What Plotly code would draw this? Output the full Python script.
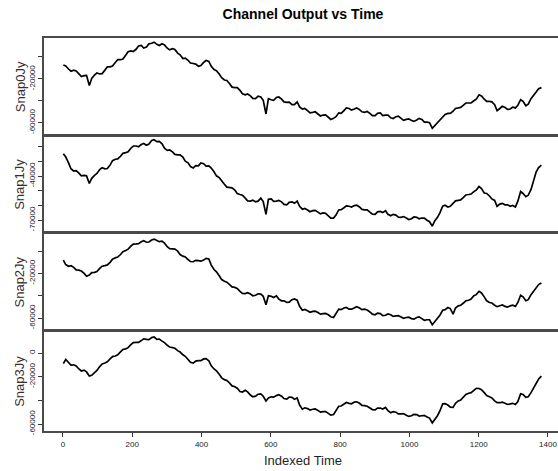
import plotly.graph_objects as go
from plotly.subplots import make_subplots

# sample positions (index): every 15 samples, plus the points in between
index_at = list(range(1, 1386, 15))
index_between = list(range(8, 1381, 15))

snap0_at = [-7300, -11000, -12000, -15500, -17000, -26000, -16500, -15500, -12000, -9000,
            -5000, -2500, 1500, 5500, 7000, 10500, 9000, 12500, 11500, 12000,
            8000, 7500, 3500, -1500, -3000, -6000, -8500, -5000, -4000, -11500,
            -15500, -21000, -24500, -28000, -30500, -34500, -35500, -38000, -36500, -52000,
            -39000, -37000, -38500, -41500, -43500, -41000, -47500, -49000, -50500, -52000,
            -53000, -55000, -56000, -51000, -49000, -47000, -47500, -48000, -50500, -51500,
            -53500, -51000, -53000, -55500, -54500, -56000, -57000, -58000, -57500, -57000,
            -59500, -65000, -59500, -55000, -51500, -49500, -46500, -44000, -42000, -40000,
            -34500, -38500, -40500, -43500, -47000, -46000, -47500, -46500, -39000, -44500,
            -38000, -31500, -28000]
snap0_between = [-8200, -13000, -12800, -17800, -16800, -19500, -14500, -15200, -9000, -8200,
                 -2500, -1800, 4800, 5000, 10000, 8200, 12000, 13500, 10500, 11000,
                 6500, 6800, 2000, -1000, -5500, -6500, -7800, -3200, -8500, -12500,
                 -19000, -21500, -27500, -28000, -33500, -33800, -37800, -35800, -39500, -38000,
                 -39500, -36500, -41000, -41200, -43500, -45500, -47000, -51000, -50000, -53800,
                 -52800, -57000, -54500, -51500, -46500, -48500, -46500, -50000, -49800, -53500,
                 -51500, -53500, -53000, -56200, -54000, -57800, -56500, -58800, -56000, -59500,
                 -60000, -62500, -58000, -52500, -51500, -47000, -46000, -42000, -42000, -38500,
                 -35500, -40500, -41000, -49000, -45000, -47800, -45800, -44000, -40500, -43000,
                 -35000, -29000]

snap1_at = [-24700, -31000, -36500, -38000, -39500, -45000, -39500, -35500, -35000, -32500,
            -28500, -26500, -24000, -21000, -19500, -18500, -19000, -15700, -16500, -18000,
            -22500, -23500, -25500, -27000, -31000, -34500, -33000, -31500, -33000, -37000,
            -41000, -45500, -48000, -49500, -52500, -55000, -57000, -57500, -55000, -66000,
            -55500, -57000, -57500, -59500, -57500, -57000, -62500, -63000, -63500, -64500,
            -65000, -67000, -68500, -63000, -61500, -60500, -60000, -61000, -63000, -64500,
            -66000, -64000, -63500, -67000, -66500, -68000, -68500, -69000, -68000, -68500,
            -70000, -74000, -68000, -60500, -61000, -58500, -56500, -54500, -52500, -50500,
            -47000, -51500, -53500, -56500, -59000, -59500, -60500, -61000, -50500, -54000,
            -49000, -37000, -32500]
snap1_between = [-27000, -35000, -36200, -39800, -39800, -41500, -38200, -34200, -34800, -29500,
                 -28300, -24500, -23500, -19500, -20000, -17800, -18200, -15200, -16300, -21000,
                 -22200, -25200, -25500, -29800, -33500, -32800, -31000, -33200, -34500, -39800,
                 -42800, -47500, -48000, -51800, -53000, -56800, -56300, -57000, -57300, -55800,
                 -57200, -56500, -59200, -57800, -58500, -60500, -62000, -64200, -63300, -65700,
                 -65300, -68500, -66500, -62800, -60200, -61000, -59800, -62600, -63000, -65900,
                 -64300, -64800, -66000, -66000, -67900, -67500, -69500, -67800, -69000, -68500,
                 -71000, -70500, -65000, -59800, -60500, -56800, -56200, -52800, -52200, -49500,
                 -48500, -51800, -55500, -60500, -58500, -59500, -60000, -57000, -51800, -53000,
                 -43500, -34200]

snap2_at = [-8000, -13500, -14500, -17000, -20000, -21500, -19000, -15500, -13000, -10000,
            -6000, -3000, 500, 4500, 6500, 8500, 8000, 10000, 9500, 9000,
            4000, 2000, 0, -4500, -7500, -9500, -8500, -8000, -7000, -16500,
            -22000, -27000, -30000, -32500, -36000, -38000, -38500, -39500, -38500, -48000,
            -40500, -40000, -44500, -46000, -43500, -44000, -53000, -53500, -54000, -55000,
            -56000, -57000, -59500, -52000, -51000, -52000, -50500, -51000, -52000, -54500,
            -57000, -56000, -57500, -57000, -58000, -59000, -59500, -60500, -59500, -60500,
            -61500, -66000, -61000, -53000, -50500, -56500, -49000, -46500, -44000, -40000,
            -36000, -41000, -46000, -48500, -49000, -49500, -49000, -49500, -39500, -44500,
            -39000, -32500, -28500]
snap2_between = [-12000, -13000, -16800, -17800, -22500, -19200, -18200, -13500, -12300, -7200,
                 -5300, -500, 1800, 6300, 6800, 9300, 8200, 10800, 8500, 7200,
                 2200, 1800, -3000, -5200, -9300, -8200, -9000, -6500, -12500, -18500,
                 -25500, -27800, -32000, -33500, -37800, -37300, -40000, -38200, -40500, -40000,
                 -41500, -43000, -44500, -45800, -42800, -49500, -52300, -54800, -53800, -56500,
                 -55800, -58800, -56500, -52500, -50500, -52000, -49800, -52500, -52800, -56500,
                 -55500, -57800, -56300, -58500, -57800, -60200, -59200, -61000, -59000, -62000,
                 -61500, -63500, -57500, -52500, -51500, -51000, -48500, -44500, -43000, -39000,
                 -37500, -44500, -46500, -49800, -48300, -50200, -48500, -46000, -41000, -43500,
                 -36000, -30000]

snap3_at = [-9000, -8000, -10000, -13500, -14500, -19500, -16500, -11500, -8500, -5000,
            -2500, 1000, 3500, 7000, 9000, 10500, 11500, 13000, 11500, 10000,
            6500, 4500, 2000, -1500, -5500, -8500, -6500, -5000, -6500, -13500,
            -18000, -22500, -25500, -28500, -32500, -31500, -35500, -36500, -34500, -40500,
            -37000, -36000, -36500, -39000, -37500, -38000, -47500, -47000, -47500, -48500,
            -49500, -51000, -52000, -45000, -43000, -42500, -41500, -42500, -44500, -46500,
            -48000, -46500, -46000, -50500, -50000, -51500, -52500, -53000, -52000, -53000,
            -54000, -59000, -53000, -43000, -44000, -46000, -40500, -37500, -34000, -31500,
            -30000, -33500, -37000, -40500, -42000, -42500, -43000, -43500, -34500, -37500,
            -33500, -25500, -19500]
snap3_between = [-5500, -10200, -11000, -15200, -16000, -18800, -14800, -9200, -7500, -3000,
                 -1500, 3000, 4500, 8800, 9000, 12000, 11300, 13500, 11800, 8800,
                 5000, 4000, 800, -2800, -7800, -6800, -6500, -4800, -10800, -15000,
                 -21000, -23200, -27800, -29800, -33000, -32800, -37000, -34800, -36500, -38000,
                 -37300, -35300, -38500, -37200, -39000, -44000, -46300, -48200, -47300, -50000,
                 -49500, -52500, -49200, -44800, -41800, -42900, -41200, -44300, -45000, -47800,
                 -46500, -47300, -48800, -49500, -51500, -51200, -53600, -51800, -53300, -52800,
                 -55000, -56500, -49000, -42800, -45800, -42500, -39800, -35000, -33500, -29800,
                 -31000, -36000, -38000, -42000, -41500, -43500, -42500, -41000, -35000, -37000,
                 -30000, -22000]

labels = ["Snap0Jy", "Snap1Jy", "Snap2Jy", "Snap3Jy"]
x_ticks = [0, 200, 400, 600, 800, 1000, 1200, 1400]


def interleave(a, b):
    out = []
    for i, v in enumerate(a):
        out.append(v)
        if i < len(b):
            out.append(b[i])
    return out


time_index = interleave(index_at, index_between)
series = [interleave(snap0_at, snap0_between), interleave(snap1_at, snap1_between),
          interleave(snap2_at, snap2_between), interleave(snap3_at, snap3_between)]
for s in series:
    if len(s) != len(time_index):
        raise ValueError("length mismatch %d vs %d" % (len(s), len(time_index)))

y_ranges = [[-70900, 17300], [-78100, -12600], [-70700, 16000], [-65900, 18600]]
y_tickvals = [
    [0, -20000, -40000, -60000],
    [-20000, -30000, -40000, -50000, -60000, -70000],
    [0, -20000, -40000, -60000],
    [0, -20000, -40000, -60000],
]
y_ticktext = [
    ["", "-20000", "", "-60000"],
    ["", "", "-40000", "", "", "-70000"],
    ["", "-20000", "", "-60000"],
    ["0", "-20000", "", "-60000"],
]
domains = [[0.754, 1.0], [0.506, 0.751], [0.257, 0.503], [0.0, 0.2545]]

fig = make_subplots(rows=4, cols=1, shared_xaxes=True, vertical_spacing=0.003)

font_family = "Liberation Sans, Arial, sans-serif"
frame_color = "#4a4a4a"

for i, ys in enumerate(series):
    r = i + 1
    fig.add_trace(go.Scatter(x=time_index, y=ys, mode="lines",
                             line=dict(color="black", width=1.7),
                             showlegend=False, hoverinfo="skip"), row=r, col=1)
    fig.update_yaxes(row=r, col=1, range=y_ranges[i], domain=domains[i],
                     tickvals=y_tickvals[i], ticktext=y_ticktext[i],
                     tickangle=-90, ticks="outside", ticklen=4, tickcolor="#333",
                     tickfont=dict(family=font_family, size=8, color="#222"),
                     showline=True, linecolor=frame_color, linewidth=2, mirror=False,
                     showgrid=False, zeroline=False, automargin=False)
    fig.update_xaxes(row=r, col=1, range=[-54.8, 1428.9],
                     showline=True, linecolor=frame_color, linewidth=2, mirror=True,
                     showgrid=False, zeroline=False, automargin=False,
                     tickvals=x_ticks, ticktext=[str(v) for v in x_ticks],
                     ticks="outside" if r == 4 else "", ticklen=4, tickcolor="#333",
                     showticklabels=(r == 4),
                     tickfont=dict(family=font_family, size=8, color="#222"))
    ymid = (domains[i][0] + domains[i][1]) / 2
    fig.add_annotation(text=labels[i], xref="paper", yref="paper",
                       x=-0.047, y=ymid, xanchor="center", yanchor="middle",
                       textangle=-90, showarrow=False,
                       font=dict(family=font_family, size=13, color="#3a2d2d"))

fig.add_annotation(text="Indexed Time", xref="paper", yref="paper",
                   x=0.503, y=-0.074, xanchor="center", yanchor="middle",
                   showarrow=False,
                   font=dict(family=font_family, size=13, color="#1e1e2a"))

fig.update_layout(
    width=558, height=471,
    margin=dict(l=44, r=0, t=38, b=40),
    paper_bgcolor="white", plot_bgcolor="white",
    title=dict(text="<b>Channel Output vs Time</b>", x=0.543, xanchor="center",
               y=0.97, yanchor="middle",
               font=dict(family=font_family, size=14, color="black")),
)

fig.write_html("out.html")
